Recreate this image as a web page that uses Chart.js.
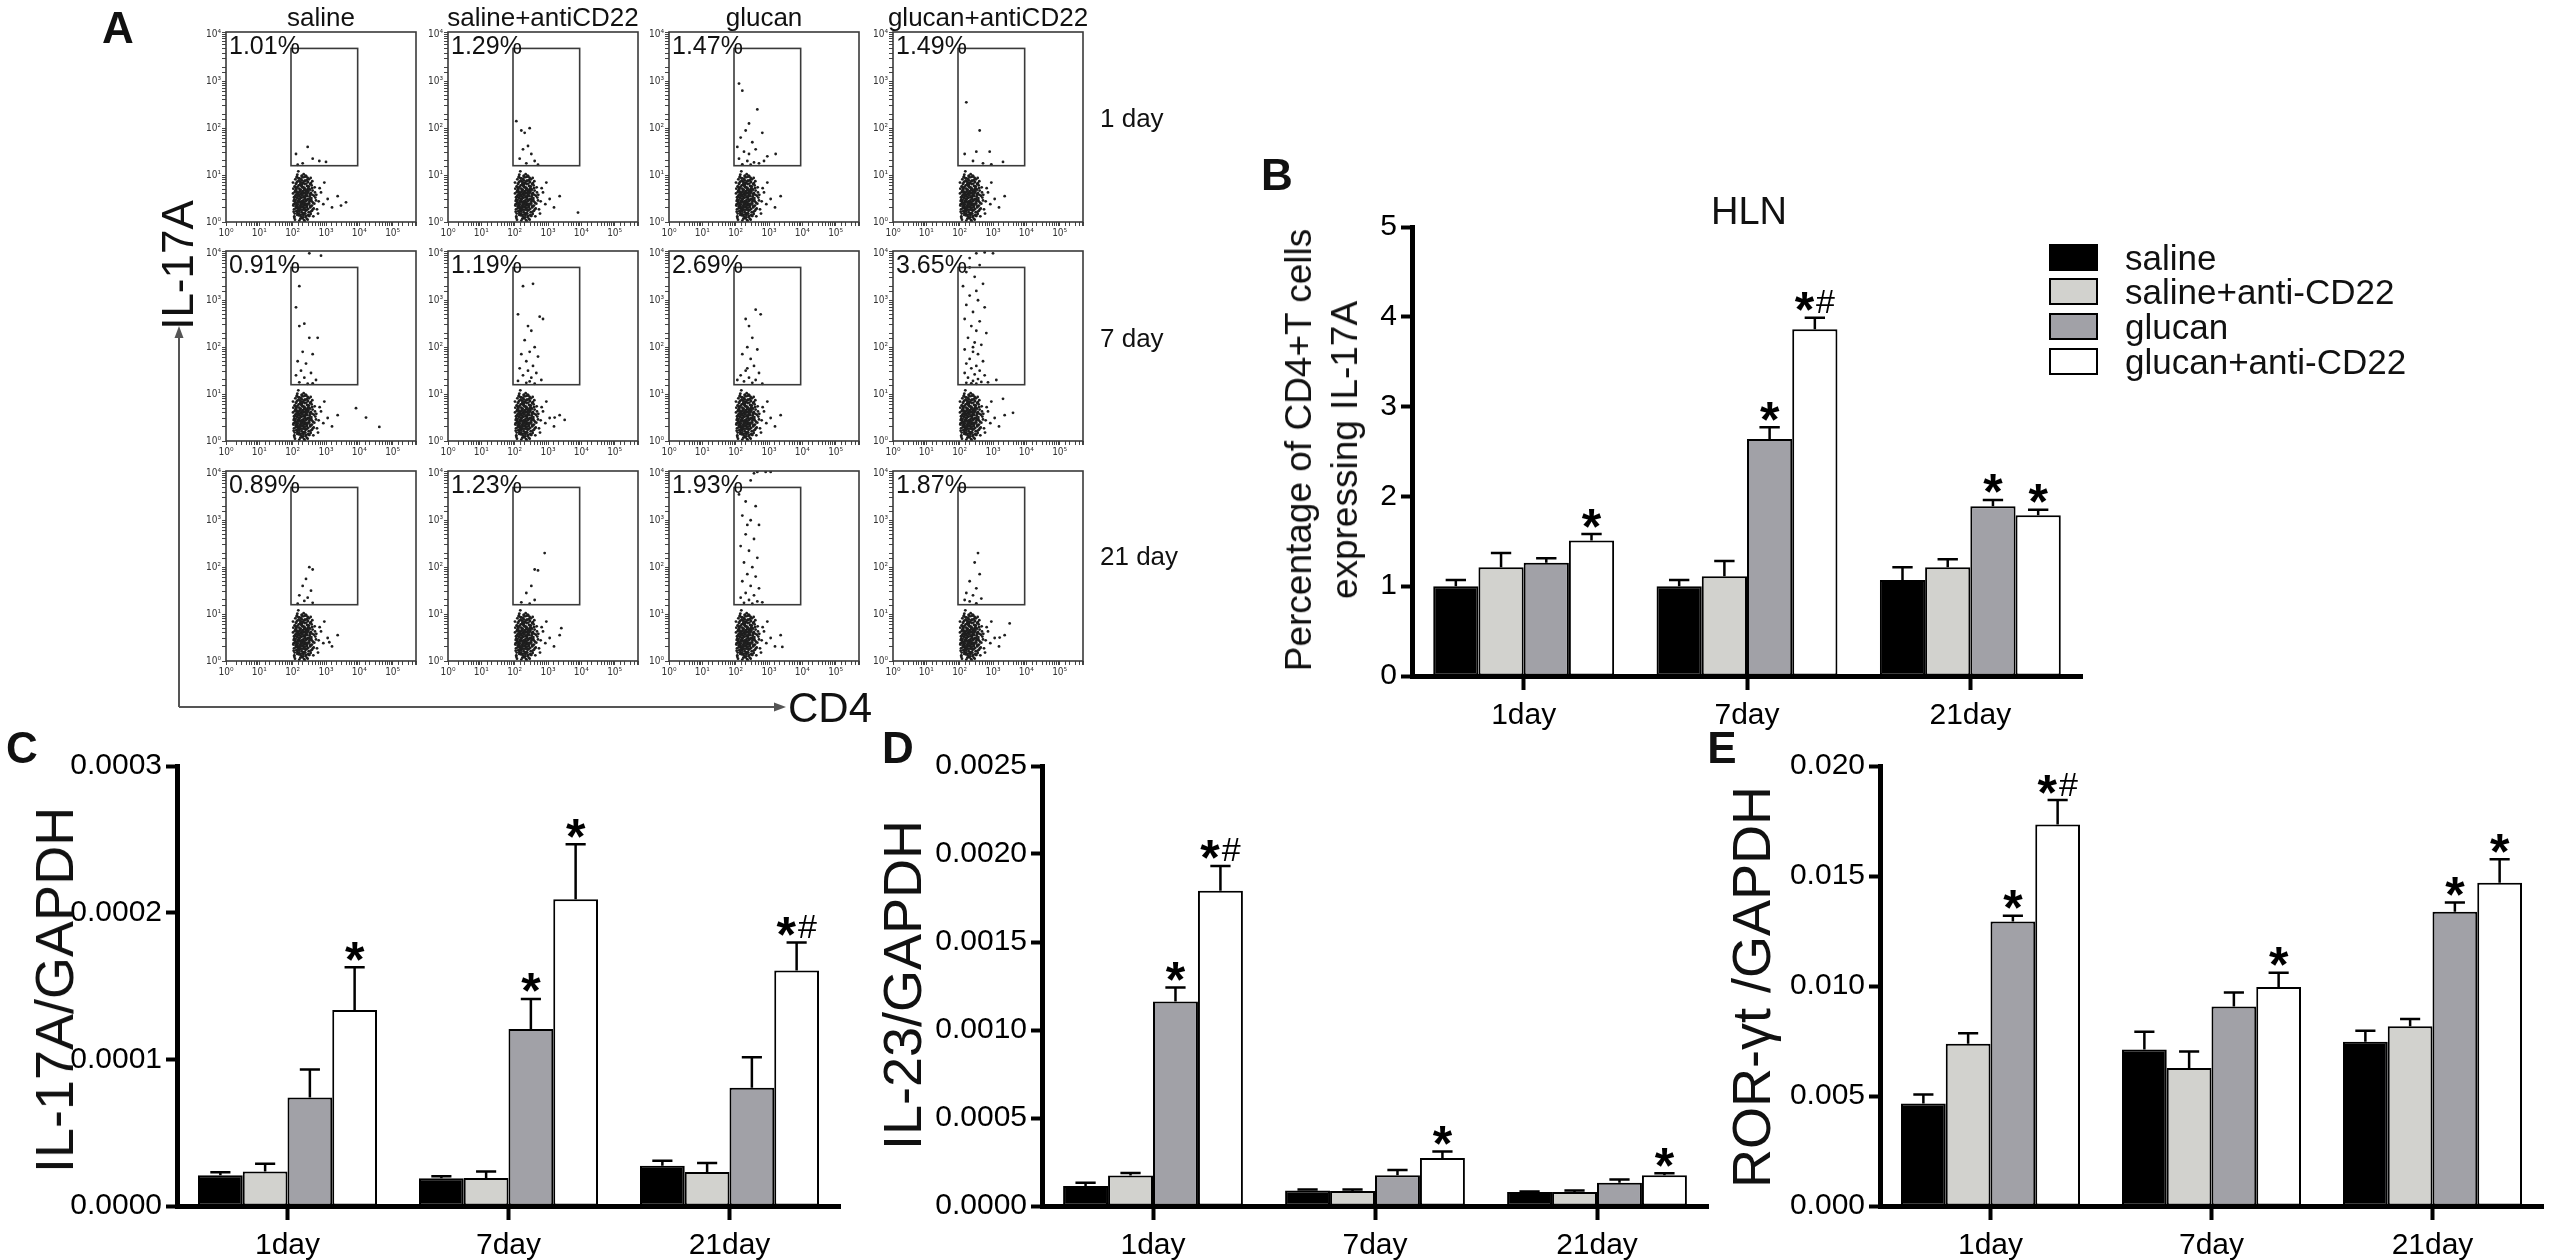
<!DOCTYPE html>
<html>
<head>
<meta charset="utf-8">
<title>IL-17A / IL-23 / ROR-γt</title>
<script src="https://cdn.jsdelivr.net/npm/chart.js@4.4.1/dist/chart.umd.min.js"></script>
<style>
  html, body { margin: 0; padding: 0; background: #fff; }
  #fig { position: relative; width: 2555px; height: 1260px; overflow: hidden; background: #fff; }
  #fig canvas { position: absolute; }
  .t { position: absolute; white-space: nowrap; color: #111; line-height: 1; }
  .sw { position: absolute; box-sizing: border-box; border: 2.5px solid #000; }
</style>
</head>
<body>
<div id="fig"></div>
<script>
// ---- data ----------------------------------------------------------------

const days = ['1day', '7day', '21day'];
const groups = ['saline', 'saline+anti-CD22', 'glucan', 'glucan+anti-CD22'];

// B: % of CD4+ T cells expressing IL-17A (HLN)
const hlnSaline = [1.00, 1.00, 1.07];
const hlnSalineAnti = [1.21, 1.11, 1.21];
const hlnGlucan = [1.26, 2.64, 1.89];
const hlnGlucanAnti = [1.51, 3.86, 1.79];
const hlnErr = [[0.07, 0.07, 0.14], [0.16, 0.17, 0.09], [0.05, 0.13, 0.07], [0.07, 0.13, 0.06]];
const hlnMarks = [['', '', ''], ['', '', ''], ['', '*', '*'], ['*', '*#', '*']];
const hlnTicks = [0, 1, 2, 3, 4, 5];

// C: IL-17A/GAPDH
const il17Saline = [0.0000210, 0.0000189, 0.0000275];
const il17SalineAnti = [0.0000236, 0.0000191, 0.0000232];
const il17Glucan = [0.0000739, 0.0001207, 0.0000806];
const il17GlucanAnti = [0.0001336, 0.0002092, 0.0001606];
const il17Err = [[0.0000020, 0.0000014, 0.0000034], [0.0000052, 0.0000045, 0.0000061],
                 [0.0000191, 0.0000205, 0.0000208], [0.0000292, 0.0000374, 0.0000191]];
const il17Marks = [['', '', ''], ['', '', ''], ['', '*', ''], ['*', '*', '*#']];
const il17Ticks = [0, 0.0001, 0.0002, 0.0003];

// D: IL-23/GAPDH
const il23Saline = [0.000113, 0.000088, 0.000079];
const il23SalineAnti = [0.000173, 0.000085, 0.000079];
const il23Glucan = [0.001162, 0.000175, 0.000132];
const il23GlucanAnti = [0.001791, 0.000273, 0.000175];
const il23Err = [[0.000019, 0.000006, 0.000004], [0.000015, 0.000009, 0.000009],
                 [0.000079, 0.000030, 0.000018], [0.000141, 0.000037, 0.000011]];
const il23Marks = [['', '', ''], ['', '', ''], ['*', '', ''], ['*#', '*', '*']];
const il23Ticks = [0, 0.0005, 0.0010, 0.0015, 0.0020, 0.0025];

// E: ROR-γt/GAPDH
const rorSaline = [0.00466, 0.00711, 0.00747];
const rorSalineAnti = [0.00737, 0.00627, 0.00817];
const rorGlucan = [0.01293, 0.00907, 0.01338];
const rorGlucanAnti = [0.01734, 0.00995, 0.01469];
const rorErr = [[0.00041, 0.00081, 0.00050], [0.00048, 0.00075, 0.00033],
                [0.00026, 0.00063, 0.00041], [0.00111, 0.00065, 0.00107]];
const rorMarks = [['', '', ''], ['', '', ''], ['*', '', '*'], ['*#', '*', '*']];
const rorTicks = [0, 0.005, 0.010, 0.015, 0.020];

// A: flow cytometry (log10 CD4, log10 IL-17A)
const flowCols = ['saline', 'saline+antiCD22', 'glucan', 'glucan+antiCD22'];
const flowDays = ['1 day', '7 day', '21 day'];
const flowPct = [['1.01%', '1.29%', '1.47%', '1.49%'],
                 ['0.91%', '1.19%', '2.69%', '3.65%'],
                 ['0.89%', '1.23%', '1.93%', '1.87%']];
const flowTicks = [1, 10, 100, 1000, 10000, 100000];
const gateX = [1.95, 3.95];
const gateY = [1.2, 3.7];

// CD4+ IL-17A- bulk
const baseCloud = [
  [2.05,0.12],[2.31,0.45],[2.18,0.78],[2.42,0.33],[2.12,0.95],[2.55,0.62],[2.27,0.21],[2.08,0.56],[2.36,0.88],[2.61,0.41],
  [2.22,0.67],[2.47,0.15],[2.03,0.38],[2.33,1.02],[2.15,0.29],[2.52,0.81],[2.26,0.52],[2.71,0.58],[2.11,0.71],[2.39,0.24],
  [2.19,0.43],[2.44,0.69],[2.01,0.84],[2.29,0.08],[2.58,0.35],[2.35,0.61],[2.09,0.47],[2.24,0.92],[2.49,0.49],[2.14,0.19],
  [2.66,0.74],[2.32,0.31],[2.06,0.64],[2.41,0.97],[2.21,0.55],[2.54,0.22],[2.28,0.79],[2.13,0.36],[2.37,0.51],[2.78,0.44],
  [2.17,1.08],[2.46,0.39],[2.04,0.27],[2.30,0.66],[2.59,0.87],[2.23,0.14],[2.40,0.58],[2.10,0.82],[2.34,0.42],[2.63,0.29],
  [2.20,0.49],[2.48,0.76],[2.07,0.05],[2.38,0.18],[2.16,0.63],[2.51,0.54],[2.25,0.37],[2.02,0.71],[2.43,0.26],[2.85,0.63],
  [2.27,0.89],[2.12,0.41],[2.56,0.47],[2.34,0.73],[2.19,0.25],[2.45,0.94],[2.09,0.33],[2.29,0.57],[2.68,0.52],[2.14,0.86],
  [2.39,0.11],[2.22,0.68],[2.53,0.31],[2.05,0.48],[2.31,0.83],[2.18,0.17],[2.44,0.62],[2.92,0.38],[2.26,0.44],[2.11,0.59],
  [2.36,0.96],[2.60,0.67],[2.03,0.22],[2.24,0.34],[2.49,0.13],[2.15,0.75],[2.33,0.53],[2.73,0.27],[2.08,0.91],[2.41,0.46],
  [2.20,0.03],[2.57,0.78],[2.28,0.63],[2.13,0.52],[2.37,0.36],[2.64,0.56],[2.17,0.28],[2.46,0.85],[2.01,0.61],[2.32,0.19],
  [3.05,0.49],[2.23,0.81],[2.50,0.43],[2.10,0.39],[2.35,0.69],[2.81,0.72],[2.19,0.58],[2.42,0.07],[2.06,0.76],[2.27,0.98],
  [2.55,0.34],[2.16,0.45],[2.38,0.55],[2.62,0.12],[2.25,0.26],[2.04,0.53],[2.47,0.65],[2.30,0.41],[2.14,1.01],[3.18,0.31],
  [2.21,0.16],[2.43,0.77],[2.09,0.68],[2.34,0.29],[2.70,0.46],[2.18,0.93],[2.52,0.58],[2.28,0.09],[2.12,0.64],[2.40,0.38],
  [2.95,0.84],[2.24,0.51],[2.58,0.24],[2.07,0.43],[2.31,0.74],[2.15,0.32],[2.45,0.48],[2.76,0.18],[2.22,0.86],[2.36,0.02],
  [2.02,0.35],[2.49,0.71],[2.26,0.61],[2.65,0.39],[2.11,0.23],[2.39,0.88],[2.19,0.47],[3.35,0.55],[2.33,0.15],[2.54,0.94]
];

// denser core of the same population
const coreCloud = [
  [2.21,0.35],[2.38,0.62],[2.14,0.51],[2.47,0.28],[2.29,0.74],[2.06,0.18],[2.33,0.47],[2.52,0.69],[2.18,0.88],[2.41,0.13],
  [2.25,0.59],[2.11,0.32],[2.36,0.81],[2.57,0.44],[2.23,0.07],[2.44,0.55],[2.08,0.66],[2.31,0.26],[2.49,0.91],[2.16,0.42],
  [2.39,0.37],[2.27,0.84],[2.54,0.17],[2.12,0.73],[2.35,0.54],[2.20,0.22],[2.46,0.76],[2.03,0.45],[2.30,0.95],[2.42,0.31],
  [2.17,0.61],[2.59,0.58],[2.26,0.11],[2.37,0.71],[2.09,0.29],[2.50,0.39],[2.22,0.79],[2.34,0.04],[2.45,0.48],[2.13,0.97],
  [2.28,0.43],[2.55,0.83],[2.19,0.14],[2.40,0.66],[2.06,0.53],[2.32,0.33],[2.48,0.21],[2.24,0.69],[2.15,0.38],[2.43,0.89],
  [2.61,0.27],[2.27,0.52],[2.10,0.81],[2.36,0.19],[2.21,0.64],[2.51,0.60],[2.33,0.86],[2.05,0.09],[2.44,0.35],[2.18,0.46],
  [2.29,0.16],[2.39,0.99],[2.56,0.51],[2.12,0.57],[2.25,0.31],[2.47,0.72],[2.20,0.93],[2.35,0.41],[2.08,0.40],[2.42,0.57],
  [2.30,0.63],[2.16,0.24],[2.53,0.34],[2.26,0.77],[2.38,0.25],[2.11,0.68],[2.45,0.05],[2.23,0.50],[2.34,0.67],[2.19,0.30],
  [2.67,0.63],[2.28,0.98],[2.14,0.15],[2.41,0.82],[2.31,0.37],[2.50,0.13],[2.07,0.75],[2.37,0.49],[2.22,0.27],[2.46,0.64],
  [2.17,0.55],[2.32,0.10],[2.58,0.72],[2.24,0.40],[2.40,0.44],[2.13,0.85],[2.29,0.58],[2.52,0.46],[2.20,0.71],[2.36,0.30]
];

// events in and around the IL-17A+ gate, per plot (row = day, col = group)
const gateEvents = [
  [[2.1,1.45],[2.45,1.6],[2.8,1.3],[2.3,1.25],[2.6,1.35],[2.15,1.22],[3.0,1.28],[3.45,0.35],[3.6,0.42]],
  [[2.05,2.15],[2.2,1.95],[2.45,2.0],[2.3,1.9],[2.25,1.55],[2.5,1.45],[2.15,1.35],[2.6,1.3],[2.35,1.25],[2.7,1.22],[2.4,1.62],[3.9,0.2]],
  [[2.1,2.95],[2.2,2.8],[2.65,2.4],[2.4,2.1],[2.3,1.95],[2.8,1.9],[2.15,1.8],[2.5,1.7],[2.6,1.55],[2.25,1.5],[2.4,1.45],
   [2.95,1.4],[2.1,1.35],[2.35,1.3],[2.55,1.27],[2.7,1.25],[2.2,1.23],[2.45,1.22],[2.85,1.3],[2.05,1.6],[3.2,1.45]],
  [[2.2,2.55],[2.6,1.95],[2.9,1.5],[2.15,1.45],[2.4,1.3],[2.7,1.25],[2.95,1.23],[3.3,1.28],[2.5,1.5]],
  [[2.5,4.0],[2.85,3.95],[2.2,3.3],[2.1,2.85],[2.2,2.45],[2.35,2.5],[2.5,2.2],[2.75,2.2],[2.3,1.9],[2.6,1.85],[2.15,1.7],
   [2.4,1.65],[2.25,1.5],[2.55,1.45],[2.1,1.4],[2.35,1.35],[2.7,1.3],[2.2,1.25],[2.45,1.22],[2.6,1.23],[4.2,0.5],[4.6,0.3],[3.9,0.7]],
  [[2.25,3.3],[2.55,3.35],[2.1,2.7],[2.75,2.65],[2.85,2.6],[2.4,2.45],[2.5,2.35],[2.3,2.15],[2.6,2.0],[2.45,1.9],[2.2,1.85],
   [2.7,1.8],[2.35,1.7],[2.55,1.6],[2.15,1.55],[2.4,1.5],[2.65,1.45],[2.25,1.4],[2.5,1.35],[2.8,1.3],[2.1,1.28],[2.35,1.24],
   [2.6,1.22],[2.45,1.27],[3.2,0.5],[3.5,0.45]],
  [[2.6,2.8],[2.75,2.7],[2.3,2.6],[2.4,2.45],[2.5,2.2],[2.35,2.0],[2.65,1.95],[2.2,1.85],[2.45,1.75],[2.55,1.6],[2.3,1.5],
   [2.7,1.45],[2.15,1.4],[2.4,1.35],[2.6,1.3],[2.25,1.27],[2.5,1.24],[2.8,1.22],[2.05,1.3],[2.35,1.55]],
  [[2.5,4.0],[2.75,4.02],[3.0,4.0],[2.3,3.9],[2.6,3.75],[2.2,3.6],[2.45,3.5],[2.1,3.3],[2.7,3.35],[2.3,3.1],[2.55,3.0],
   [2.2,2.9],[2.75,2.85],[2.4,2.75],[2.15,2.6],[2.6,2.55],[2.35,2.45],[2.5,2.35],[2.8,2.3],[2.25,2.2],[2.45,2.1],[2.65,2.05],
   [2.15,1.95],[2.4,1.9],[2.55,1.85],[2.3,1.75],[2.7,1.7],[2.2,1.65],[2.5,1.6],[2.35,1.55],[2.6,1.5],[2.15,1.45],[2.45,1.42],
   [2.75,1.4],[2.25,1.35],[2.55,1.32],[2.4,1.28],[2.65,1.26],[2.2,1.24],[2.5,1.22],[2.35,1.23],[2.85,1.25],[3.1,1.3],
   [2.3,3.7],[2.5,3.2],[2.4,2.0],[3.3,0.9],[3.6,0.6]],
  [[2.5,2.0],[2.6,1.95],[2.4,1.75],[2.3,1.6],[2.55,1.5],[2.2,1.4],[2.45,1.35],[2.35,1.28],[2.6,1.24],[2.15,1.22],[3.1,0.4]],
  [[2.9,2.3],[2.6,1.95],[2.7,1.93],[2.5,1.6],[2.35,1.45],[2.6,1.3],[2.2,1.25],[2.45,1.22],[3.4,0.7]],
  [[2.55,4.0],[2.65,4.03],[2.9,4.03],[3.05,4.03],[2.45,3.85],[2.1,3.55],[2.3,3.4],[2.6,3.3],[2.2,3.1],[2.45,3.0],[2.7,2.9],
   [2.3,2.7],[2.55,2.6],[2.15,2.45],[2.4,2.35],[2.65,2.2],[2.25,2.1],[2.5,2.0],[2.35,1.85],[2.6,1.8],[2.2,1.7],[2.45,1.6],
   [2.7,1.55],[2.3,1.45],[2.55,1.4],[2.15,1.35],[2.4,1.3],[2.65,1.27],[2.25,1.24],[2.5,1.22],[2.8,1.25],[2.35,2.9],[3.4,0.3]],
  [[2.55,2.3],[2.45,2.1],[2.6,1.85],[2.3,1.7],[2.5,1.55],[2.2,1.45],[2.4,1.4],[2.65,1.33],[2.3,1.27],[2.5,1.23],[2.15,1.3],
   [3.5,0.8],[3.2,0.5]]
];

// ---- styles and layout ---------------------------------------------------

const SANS = "'Liberation Sans', Arial, sans-serif";
const groupFills = ['#000000', '#d2d2ce', '#a1a1a7', '#ffffff'];
const SUP = ['\u2070', '\u00b9', '\u00b2', '\u00b3', '\u2074', '\u2075'];

const flowLeft = [226, 448, 669, 893];
const flowTop = [32, 251, 471];
const FLOW_SIZE = 190;

const fig = document.getElementById('fig');

function makeCanvas(area, m) {
  const c = document.createElement('canvas');
  c.width = area.right - area.left + m.l + m.r;
  c.height = area.bottom - area.top + m.t + m.b;
  c.style.left = (area.left - m.l) + 'px';
  c.style.top = (area.top - m.t) + 'px';
  fig.appendChild(c);
  return c;
}

function text(str, x, y, size, opts = {}) {
  const d = document.createElement('div');
  d.className = 't';
  d.textContent = str;
  d.style.fontFamily = SANS;
  d.style.fontSize = size + 'px';
  if (opts.bold) d.style.fontWeight = 'bold';
  if (opts.lineHeight) {
    d.style.lineHeight = opts.lineHeight;
    d.style.whiteSpace = 'pre';
    d.style.textAlign = 'center';
  }
  d.style.left = x + 'px';
  d.style.top = y + 'px';
  let tf = opts.anchor === 'left' ? 'translate(0,-50%)' : 'translate(-50%,-50%)';
  if (opts.rotate) tf += ' rotate(-90deg)';
  d.style.transform = tf;
  fig.appendChild(d);
  return d;
}

/**
 * Error whiskers (upward only) and significance marks over each bar
 */
const errorBars = {
  id: 'errorBars',
  afterDatasetsDraw(chart) {
    const ctx = chart.ctx;
    const yScale = chart.scales.y;
    chart.data.datasets.forEach((ds, i) => {
      const meta = chart.getDatasetMeta(i);
      meta.data.forEach((bar, j) => {
        const top = yScale.getPixelForValue(ds.data[j] + ds.errors[j]);
        const cap = bar.width * 0.45;
        ctx.save();
        ctx.strokeStyle = '#000';
        ctx.lineWidth = 2.5;
        ctx.beginPath();
        ctx.moveTo(bar.x, bar.y);
        ctx.lineTo(bar.x, top);
        ctx.moveTo(bar.x - cap / 2, top);
        ctx.lineTo(bar.x + cap / 2, top);
        ctx.stroke();

        const mark = ds.marks[j];
        if (mark) {
          const starSize = 50, hashSize = 34;
          ctx.fillStyle = '#000';
          ctx.textBaseline = 'alphabetic';
          ctx.font = 'bold ' + starSize + 'px ' + SANS;
          const ws = ctx.measureText('*').width;
          let wh = 0;
          if (mark.includes('#')) {
            ctx.font = hashSize + 'px ' + SANS;
            wh = ctx.measureText('#').width + 2;
          }
          const x0 = bar.x - (ws + wh) / 2;
          const base = top - 7 + 0.33 * starSize;
          ctx.font = 'bold ' + starSize + 'px ' + SANS;
          ctx.fillText('*', x0, base);
          if (wh) {
            // '#' centred on the asterisk's height
            const starMid = base - 0.52 * starSize;
            ctx.font = hashSize + 'px ' + SANS;
            ctx.fillText('#', x0 + ws + 2, starMid + 0.35 * hashSize);
          }
        }
        ctx.restore();
      });
    });
  }
};

/**
 * Frame, gate rectangle and gate percentage for the flow plots
 */
const flowFrame = {
  id: 'flowFrame',
  afterDatasetsDraw(chart, args, opts) {
    const { ctx, chartArea: a, scales: { x, y } } = chart;
    ctx.save();
    ctx.strokeStyle = '#3a3a3a';
    ctx.lineWidth = 1.6;
    ctx.strokeRect(a.left, a.top, a.right - a.left, a.bottom - a.top);
    const gx0 = x.getPixelForValue(Math.pow(10, gateX[0]));
    const gx1 = x.getPixelForValue(Math.pow(10, gateX[1]));
    const gy0 = y.getPixelForValue(Math.pow(10, gateY[0]));
    const gy1 = y.getPixelForValue(Math.pow(10, gateY[1]));
    ctx.strokeRect(gx0, gy1, gx1 - gx0, gy0 - gy1);
    ctx.fillStyle = '#111';
    ctx.font = '25px ' + SANS;
    ctx.textBaseline = 'top';
    ctx.fillText(opts.pct, a.left + 3, a.top + 3);
    ctx.restore();
  }
};

function decadeLabel(v) {
  const e = Math.round(Math.log10(v));
  return Math.abs(Math.log10(v) - e) < 1e-6 && flowTicks.includes(Math.pow(10, e)) ? '10' + SUP[e] : '';
}

function drawFlow(r, c) {
  const area = { left: flowLeft[c], top: flowTop[r], right: flowLeft[c] + FLOW_SIZE, bottom: flowTop[r] + FLOW_SIZE };
  const m = { l: 26, t: 10, r: 8, b: 24 };
  const cv = makeCanvas(area, m);
  const pts = baseCloud.concat(coreCloud, gateEvents[r * 4 + c])
    .map(p => ({ x: Math.pow(10, p[0]), y: Math.pow(10, p[1]) }));
  const axisTicks = { autoSkip: false, maxRotation: 0, color: '#333', padding: 1,
                      font: { family: "'DejaVu Sans Condensed', sans-serif", size: 10 }, callback: decadeLabel };
  const axisGrid = { drawOnChartArea: false, tickLength: 4, color: '#444', lineWidth: 1 };
  new Chart(cv, {
    type: 'scatter',
    data: { datasets: [{ data: pts, pointRadius: 1.4, pointBackgroundColor: '#1e1e1e', pointBorderWidth: 0 }] },
    options: {
      responsive: false, animation: false, devicePixelRatio: 1, events: [],
      layout: { padding: { left: 0, top: m.t, right: m.r, bottom: 0 } },
      plugins: { legend: { display: false }, tooltip: { enabled: false }, flowFrame: { pct: flowPct[r][c] } },
      scales: {
        x: { type: 'logarithmic', min: 1, max: Math.pow(10, 5.7), ticks: axisTicks, grid: axisGrid,
             border: { display: false }, afterFit: s => { s.height = m.b; } },
        y: { type: 'logarithmic', min: 1, max: Math.pow(10, 4.05), ticks: axisTicks, grid: axisGrid,
             border: { display: false }, afterFit: s => { s.width = m.l; } }
      }
    },
    plugins: [flowFrame]
  });
}

function drawBars(area, series, errors, marks, ticks, decimals) {
  const m = { l: 135, t: 30, r: 14, b: 54 };
  const cv = makeCanvas(area, m);
  new Chart(cv, {
    type: 'bar',
    data: {
      labels: days,
      datasets: series.map((s, i) => ({
        label: groups[i], data: s, errors: errors[i], marks: marks[i],
        backgroundColor: groupFills[i], borderColor: '#000', borderWidth: 2, borderSkipped: false,
        categoryPercentage: 0.81, barPercentage: 1
      }))
    },
    options: {
      responsive: false, animation: false, devicePixelRatio: 1, events: [],
      layout: { padding: { left: 0, top: m.t, right: m.r, bottom: 0 } },
      plugins: { legend: { display: false }, tooltip: { enabled: false } },
      scales: {
        x: {
          grid: { offset: false, drawOnChartArea: false, tickLength: 14, tickWidth: 4, tickColor: '#000' },
          border: { color: '#000', width: 5 },
          ticks: { color: '#000', font: { family: SANS, size: 30 }, padding: 8, maxRotation: 0 },
          afterFit: s => { s.height = m.b; }
        },
        y: {
          min: ticks[0], max: ticks[ticks.length - 1],
          afterBuildTicks: s => { s.ticks = ticks.map(v => ({ value: v })); },
          grid: { drawOnChartArea: false, tickLength: 11, tickWidth: 4, tickColor: '#000' },
          border: { color: '#000', width: 5 },
          ticks: { color: '#000', font: { family: SANS, size: 30 }, padding: 4,
                   callback: v => Number(v).toFixed(decimals) },
          afterFit: s => { s.width = m.l; }
        }
      }
    },
    plugins: [errorBars]
  });
}

// ---- panel A -------------------------------------------------------------

for (let r = 0; r < 3; r++) {
  for (let c = 0; c < 4; c++) drawFlow(r, c);
}

fig.insertAdjacentHTML('beforeend',
  '<svg width="2555" height="1260" style="position:absolute;left:0;top:0">' +
  '<line x1="179" y1="707" x2="179" y2="336" stroke="#555" stroke-width="2"/>' +
  '<polygon points="179,326 174.5,338 183.5,338" fill="#555"/>' +
  '<line x1="179" y1="707" x2="775" y2="707" stroke="#555" stroke-width="2"/>' +
  '<polygon points="786,707 774,702.5 774,711.5" fill="#555"/>' +
  '</svg>');

text('A', 118, 28, 44, { bold: true });
flowCols.forEach((t, c) => text(t, flowLeft[c] + FLOW_SIZE / 2, 17, 26));
[118, 338, 556].forEach((y, r) => text(flowDays[r], 1100, y, 26, { anchor: 'left' }));
text('IL-17A', 178, 265, 44, { rotate: true });
text('CD4', 788, 708, 42, { anchor: 'left' });

// ---- panel B -------------------------------------------------------------

drawBars({ left: 1412, top: 227, right: 2082, bottom: 676 },
         [hlnSaline, hlnSalineAnti, hlnGlucan, hlnGlucanAnti], hlnErr, hlnMarks, hlnTicks, 0);
text('B', 1277, 175, 44, { bold: true });
text('HLN', 1749, 211, 38);
text('Percentage of CD4+T cells\nexpressing IL-17A', 1322, 450, 37, { rotate: true, lineHeight: '46px' });

[244, 278, 313, 348].forEach((y, i) => {
  const s = document.createElement('div');
  s.className = 'sw';
  s.style.cssText += 'left:2049px;top:' + y + 'px;width:49px;height:27px;background:' + groupFills[i];
  fig.appendChild(s);
  text(groups[i], 2125, y + 13, 35, { anchor: 'left' });
});

// ---- panels C, D, E ------------------------------------------------------

drawBars({ left: 177, top: 766, right: 840, bottom: 1206 },
         [il17Saline, il17SalineAnti, il17Glucan, il17GlucanAnti], il17Err, il17Marks, il17Ticks, 4);
drawBars({ left: 1042, top: 766, right: 1708, bottom: 1206 },
         [il23Saline, il23SalineAnti, il23Glucan, il23GlucanAnti], il23Err, il23Marks, il23Ticks, 4);
drawBars({ left: 1880, top: 766, right: 2543, bottom: 1206 },
         [rorSaline, rorSalineAnti, rorGlucan, rorGlucanAnti], rorErr, rorMarks, rorTicks, 3);

text('C', 22, 748, 44, { bold: true });
text('D', 898, 748, 44, { bold: true });
text('E', 1722, 748, 44, { bold: true });
text('IL-17A/GAPDH', 54, 990, 54, { rotate: true });
text('IL-23/GAPDH', 902, 985, 54, { rotate: true });
text('ROR-\u03b3t /GAPDH', 1751, 987, 54, { rotate: true });
</script>
</body>
</html>
